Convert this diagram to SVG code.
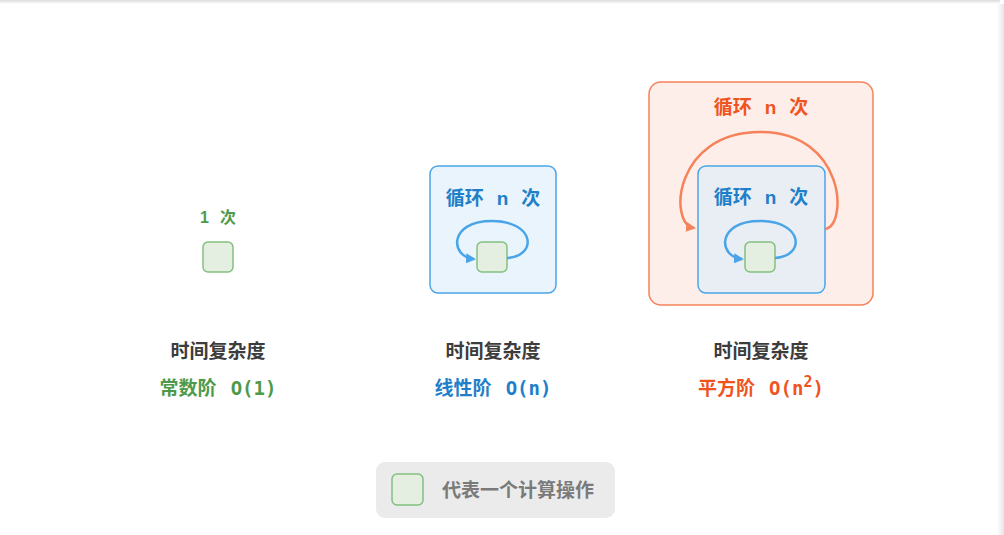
<svg xmlns="http://www.w3.org/2000/svg" width="1004" height="535" viewBox="0 0 1004 535">
<defs>
<style>
.cjk{font-family:"Noto Sans CJK SC","Noto Sans",sans-serif;font-weight:bold;text-anchor:middle}
.mono{font-family:"DejaVu Sans Mono","Liberation Mono",monospace;font-weight:bold}
.lat{font-family:"Liberation Sans",Arial,sans-serif;font-weight:bold}
.op{fill:#e4efe2;stroke:#82c07f;stroke-width:1.5}
.title{fill:#3c3c3c;font-size:19px}
.bl{stroke:#4aa5e8;stroke-width:2.5;fill:none}
.or{stroke:#f5825a;stroke-width:2.5;fill:none}
</style>
<marker id="ab" viewBox="0 0 10 10" refX="8" refY="5" markerWidth="4" markerHeight="4" orient="auto"><path d="M0,0 L10,5 L0,10 z" fill="#4aa5e8"/></marker>
<marker id="ao" viewBox="0 0 10 10" refX="8" refY="5" markerWidth="4" markerHeight="4" orient="auto"><path d="M0,0 L10,5 L0,10 z" fill="#f5825a"/></marker>
<linearGradient id="st" x1="0" y1="0" x2="0" y2="1"><stop offset="0" stop-color="#dcdcdc"/><stop offset="1" stop-color="#ffffff"/></linearGradient>
<linearGradient id="sr" x1="0" y1="0" x2="1" y2="0"><stop offset="0" stop-color="#ffffff"/><stop offset="1" stop-color="#e6e6e6"/></linearGradient>
</defs>
<rect x="0" y="0" width="1004" height="535" fill="#ffffff"/>
<rect x="0" y="0" width="1000" height="4" fill="url(#st)"/>
<rect x="997" y="4" width="7" height="531" fill="url(#sr)"/>

<g id="constant">
<text class="cjk" x="218" y="223" font-size="16" fill="#4e9a4a"><tspan class="lat">1</tspan><tspan dx="11">次</tspan></text>
<rect class="op" x="203" y="242" width="30" height="30" rx="5"/>
<text class="cjk title" x="218" y="358">时间复杂度</text>
<text class="cjk" x="218" y="395" font-size="19" fill="#4e9a4a">常数阶<tspan class="mono" dx="14">O(1)</tspan></text>
</g>

<g id="linear">
<rect x="430" y="166" width="126" height="127" rx="8" fill="#e9f4fc" stroke="#4aa5e8" stroke-width="1.5"/>
<text class="cjk" x="493" y="205" font-size="19" fill="#1f7fc9">循环<tspan class="lat" dx="13">n</tspan><tspan dx="13">次</tspan></text>
<rect class="op" x="477" y="242" width="30" height="30" rx="5"/>
<text class="cjk title" x="493" y="358">时间复杂度</text>
<text class="cjk" x="493" y="395" font-size="19" fill="#1f7fc9">线性阶<tspan class="mono" dx="14">O(n)</tspan></text>
</g>

<g id="quadratic">
<rect x="649" y="82" width="224" height="223" rx="12" fill="#fdeee9" stroke="#f5825a" stroke-width="1.5"/>
<text class="cjk" x="761" y="114" font-size="19" fill="#f0541e">循环<tspan class="lat" dx="13">n</tspan><tspan dx="13">次</tspan></text>
<rect x="698" y="166" width="127" height="127" rx="8" fill="#e9eef4" stroke="#4aa5e8" stroke-width="1.5"/>
<text class="cjk" x="761" y="204" font-size="19" fill="#1f7fc9">循环<tspan class="lat" dx="13">n</tspan><tspan dx="13">次</tspan></text>
<rect class="op" x="745" y="242" width="30" height="30" rx="5"/>
<text class="cjk title" x="761" y="358">时间复杂度</text>
<text class="cjk" x="761" y="395" font-size="19" fill="#f0541e">平方阶<tspan class="mono" dx="14">O(n<tspan font-size="15" dy="-8">2</tspan><tspan dy="8">)</tspan></tspan></text>
</g>

<g id="legend">
<rect x="376" y="462" width="239" height="56" rx="9" fill="#ebebeb"/>
<rect class="op" x="392" y="474" width="31" height="31" rx="5"/>
<text class="cjk" x="518" y="497" font-size="19" fill="#7a7a7a">代表一个计算操作</text>
</g>

<g id="connectors">
<path class="bl" d="M507,258 C538,256 535,221 492,221 C448,221 450,257 474,259" marker-end="url(#ab)"/>
<path class="bl" d="M775,258 C806,256 803,221 760,221 C716,221 718,257 742,259" marker-end="url(#ab)"/>
<path class="or" d="M825,229 C848,226 846,132 760,132 C674,132 668,224 694,228" marker-end="url(#ao)"/>
</g>
</svg>
